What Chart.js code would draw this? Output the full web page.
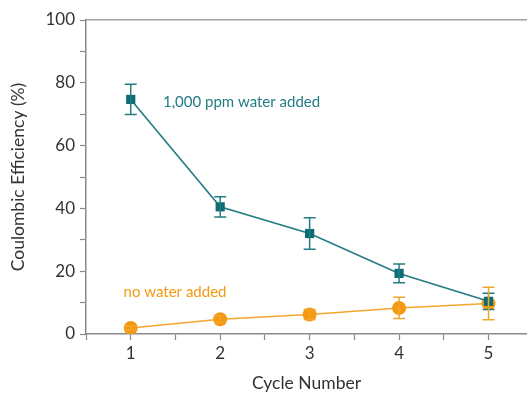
<!DOCTYPE html>
<html>
<head>
<meta charset="utf-8">
<script src="https://cdn.jsdelivr.net/npm/chart.js@4/dist/chart.umd.min.js"></script>
<style>
  html, body { margin: 0; padding: 0; background: #ffffff; }
  #wrap { width: 527px; height: 394px; }
</style>
</head>
<body>
<div id="wrap"><canvas id="ceChart"></canvas></div>
<script>
// 데이터
const cycles = [1, 2, 3, 4, 5];
const waterAdded = [74.7, 40.5, 32.0, 19.3, 10.4];
const waterAddedErr = [4.8, 3.2, 5.0, 3.0, 2.6];
const noWater = [1.9, 4.7, 6.2, 8.3, 9.7];
const noWaterErr = [0.6, 1.0, 1.6, 3.4, 5.2];
const seriesLabels = ['1,000 ppm water added', 'no water added'];

const teal = '#0f6b74';
const tealLine = '#247c84';
const orange = '#f39a12';
const orangeLine = '#f4a52c';

// 에러바 그리기
const errorBars = {
    id: 'errorBars',
    afterDatasetsDraw(chart) {
        const ctx = chart.ctx;
        const xs = chart.scales.x, ys = chart.scales.y;
        chart.data.datasets.forEach(ds => {
            ctx.save();
            ctx.strokeStyle = ds.errColor;
            ctx.lineWidth = 1.5;
            ds.data.forEach((p, i) => {
                const px = xs.getPixelForValue(p.x);
                const top = ys.getPixelForValue(p.y + ds.err[i]);
                const bot = ys.getPixelForValue(p.y - ds.err[i]);
                ctx.beginPath();
                ctx.moveTo(px, top); ctx.lineTo(px, bot);
                ctx.moveTo(px - 6, top); ctx.lineTo(px + 6, top);
                ctx.moveTo(px - 6, bot); ctx.lineTo(px + 6, bot);
                ctx.stroke();
            });
            ctx.restore();
        });
    }
};

// 시리즈 라벨
const seriesText = {
    id: 'seriesText',
    afterDraw(chart) {
        const ctx = chart.ctx;
        const xs = chart.scales.x, ys = chart.scales.y;
        ctx.save();
        ctx.font = '15px Lato';
        ctx.textBaseline = 'middle';
        ctx.textAlign = 'left';
        ctx.fillStyle = tealLine;
        ctx.fillText(seriesLabels[0], xs.getPixelForValue(1.36), ys.getPixelForValue(73.8));
        ctx.fillStyle = orange;
        ctx.fillText(seriesLabels[1], xs.getPixelForValue(0.92), ys.getPixelForValue(13.4));
        ctx.restore();
    }
};

new Chart(document.getElementById('ceChart'), {
    type: 'line',
    data: {
        datasets: [{
            label: seriesLabels[0],
            data: cycles.map((c, i) => ({ x: c, y: waterAdded[i] })),
            err: waterAddedErr,
            errColor: tealLine,
            borderColor: tealLine,
            borderWidth: 1.6,
            backgroundColor: teal,
            pointStyle: 'rect',
            pointRadius: 6.5,
            pointBorderWidth: 0,
            fill: false,
            tension: 0
        }, {
            label: seriesLabels[1],
            data: cycles.map((c, i) => ({ x: c, y: noWater[i] })),
            err: noWaterErr,
            errColor: orangeLine,
            borderColor: orangeLine,
            borderWidth: 1.6,
            backgroundColor: orange,
            pointStyle: 'circle',
            pointRadius: 7,
            pointBorderWidth: 0,
            fill: false,
            tension: 0
        }]
    },
    options: {
        responsive: true,
        maintainAspectRatio: false,
        animation: false,
        layout: { autoPadding: false, padding: 0 },
        plugins: { legend: { display: false }, tooltip: { enabled: false } },
        scales: {
            x: {
                type: 'linear',
                min: 0.5,
                max: 5.43,
                afterFit: s => { s.height = 60; s.paddingLeft = 0; s.paddingRight = 0; },
                afterBuildTicks: s => {
                    s.ticks = [0.5, 1, 1.5, 2, 2.5, 3, 3.5, 4, 4.5, 5].map(v => ({ value: v }));
                },
                border: { display: true, color: '#8a8a8a', width: 1.5 },
                grid: { drawOnChartArea: false, drawTicks: true, tickLength: 6, color: '#8a8a8a', tickWidth: 1.2 },
                ticks: {
                    color: '#333333',
                    font: { family: 'Lato', size: 17 },
                    padding: 3,
                    maxRotation: 0,
                    callback: v => Number.isInteger(v) ? String(v) : ''
                },
                title: {
                    display: true,
                    text: 'Cycle Number',
                    color: '#333333',
                    font: { family: 'Lato', size: 17.5 },
                    padding: { top: 11, bottom: 0 }
                }
            },
            x2: {
                type: 'linear',
                position: 'top',
                min: 0.5,
                max: 5.43,
                afterFit: s => { s.height = 20; s.paddingLeft = 0; s.paddingRight = 0; },
                border: { display: true, color: '#a0a0a0', width: 1.5 },
                grid: { drawOnChartArea: false, drawTicks: false },
                ticks: { display: false }
            },
            y: {
                min: 0,
                max: 100,
                afterFit: s => { s.width = 86; s.paddingTop = 0; s.paddingBottom = 0; },
                afterBuildTicks: s => {
                    s.ticks = [0, 10, 20, 30, 40, 50, 60, 70, 80, 90, 100].map(v => ({ value: v }));
                },
                border: { display: true, color: '#8a8a8a', width: 1.5 },
                grid: { drawOnChartArea: false, drawTicks: true, tickLength: 6, color: '#8a8a8a', tickWidth: 1.2 },
                ticks: {
                    color: '#333333',
                    font: { family: 'Lato', size: 17 },
                    padding: 5,
                    callback: v => v % 20 === 0 ? String(v) : ''
                },
                title: {
                    display: true,
                    text: 'Coulombic Efficiency (%)',
                    color: '#333333',
                    font: { family: 'Lato', size: 17.5 },
                    padding: { top: 8, bottom: 4 }
                }
            }
        }
    },
    plugins: [errorBars, seriesText]
});
</script>
</body>
</html>
